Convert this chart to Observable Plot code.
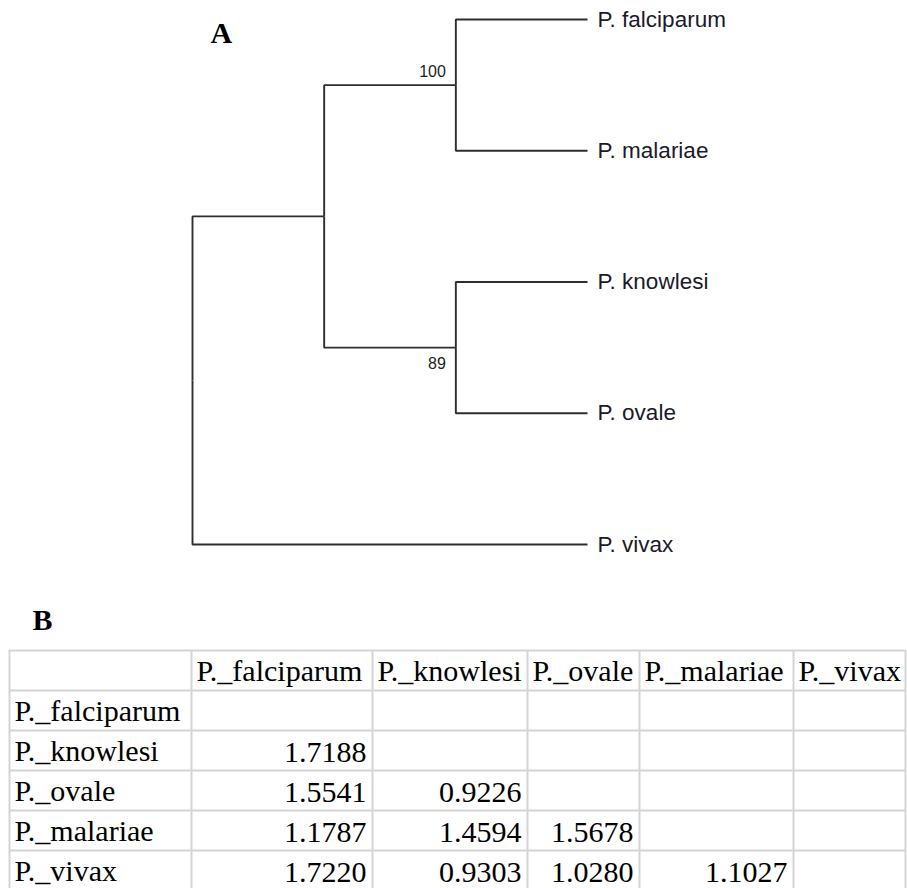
<!DOCTYPE html>
<html>
<head>
<meta charset="utf-8">
<script src="https://cdn.jsdelivr.net/npm/d3@7"></script>
<script src="https://cdn.jsdelivr.net/npm/@observablehq/plot@0.6"></script>
<style>
  html, body { margin: 0; padding: 0; background: #fff; overflow: hidden; }
  #chart svg { display: block; }
</style>
</head>
<body>
<div id="chart"></div>
<script>
// ---------- DATA ----------
// Tree (cladogram) edges: parent -> child
const edgeParents  = ["root", "root",    "inner", "inner", "n100",          "n100",        "n89",         "n89"];
const edgeChildren = ["inner", "P. vivax", "n100", "n89",  "P. falciparum", "P. malariae", "P. knowlesi", "P. ovale"];
// Bootstrap support values
const supportNodes  = ["n100", "n89"];
const supportValues = [100, 89];

// Distance table (lower triangle)
const taxa = ["P._falciparum", "P._knowlesi", "P._ovale", "P._malariae", "P._vivax"];
const distFalciparum = [];
const distKnowlesi   = [1.7188];
const distOvale      = [1.5541, 0.9226];
const distMalariae   = [1.1787, 1.4594, 1.5678];
const distVivax      = [1.7220, 0.9303, 1.0280, 1.1027];
const distRows = [distFalciparum, distKnowlesi, distOvale, distMalariae, distVivax];

// ---------- LAYOUT ----------
const W = 907;
const colWidths = [182, 181, 155, 112, 154, 112]; // first column = row labels

// ---------- TREE ----------
const links = edgeParents.map((p, i) => ({parent: p, child: edgeChildren[i]}));
const root = d3.stratify().id(d => d.child).parentId(d => d.parent)(
  [{child: "root", parent: null}, ...links]
);
const maxDepth = d3.max(root.leaves(), d => d.depth);
let leafIdx = 0;
root.eachAfter(n => {
  if (!n.children) { n.px = maxDepth; n.py = leafIdx++; }
  else { n.px = n.depth; n.py = d3.mean(n.children, c => c.py); }
});
const nodeList = root.descendants();
const edges = nodeList.filter(n => n.parent).map(n => ({
  x1: n.parent.px, y1: n.parent.py, x2: n.px, y2: n.py
}));
const leafNodes = root.leaves().map(n => ({x: n.px, y: n.py, name: n.id}));
const supportData = supportNodes.map((id, i) => {
  const n = nodeList.find(d => d.id === id);
  return {x: n.px, y: n.py, value: supportValues[i], below: n.py > 2};
});

const treePlot = Plot.plot({
  width: W,
  height: 570,
  marginLeft: 192,
  marginRight: 320,
  marginTop: 19,
  marginBottom: 26,
  x: {domain: [0, maxDepth], axis: null},
  y: {domain: [0, leafIdx - 1], reverse: true, axis: null},
  style: {fontFamily: "'Liberation Sans', Arial, sans-serif", background: "#fff"},
  marks: [
    Plot.link(edges, {x1: "x1", y1: "y1", x2: "x2", y2: "y2", curve: "step-before",
      stroke: "#2e2e2e", strokeWidth: 1.9}),
    Plot.text(leafNodes, {x: "x", y: "y", text: "name", dx: 10, textAnchor: "start",
      lineAnchor: "middle", fontSize: 22.5, fill: "#1a1a2a"}),
    Plot.text(supportData.filter(d => !d.below), {x: "x", y: "y", text: d => String(d.value),
      dx: -10, dy: -8, textAnchor: "end", lineAnchor: "bottom", fontSize: 16, fill: "#222"}),
    Plot.text(supportData.filter(d => d.below), {x: "x", y: "y", text: d => String(d.value),
      dx: -10, dy: 10, textAnchor: "end", lineAnchor: "top", fontSize: 16, fill: "#222"}),
    Plot.text(["A"], {frameAnchor: "top-left", dx: 18, dy: 23, textAnchor: "start",
      lineAnchor: "bottom", fontSize: 30, fontWeight: "bold",
      fontFamily: "'Liberation Serif', 'Times New Roman', serif", fill: "#000"})
  ]
});

// ---------- TABLE ----------
const colEdges = [0];
colWidths.forEach(w => colEdges.push(colEdges[colEdges.length - 1] + w));
const totalW = colEdges[colEdges.length - 1];
const nRows = taxa.length + 1;

const headerCells = taxa.map((t, j) => ({x: colEdges[j + 1], y: 1, text: t}));
const rowLabels = taxa.map((t, i) => ({x: 0, y: i + 2, text: t}));
const valueCells = [];
distRows.forEach((row, i) => row.forEach((v, j) => {
  valueCells.push({x: colEdges[j + 2], y: i + 2, text: v.toFixed(4)});
}));

const serif = "'Liberation Serif', 'Times New Roman', serif";
const tablePlot = Plot.plot({
  width: W,
  height: 320,
  marginLeft: 9,
  marginRight: 2,
  marginTop: 80,
  marginBottom: 0,
  x: {domain: [0, totalW], axis: null},
  y: {domain: [0, nRows], reverse: true, axis: null},
  style: {fontFamily: serif, background: "#fff"},
  marks: [
    Plot.ruleY(d3.range(nRows + 1), {x1: 0, x2: totalW, stroke: "#d4d4d4", strokeWidth: 2}),
    Plot.ruleX(colEdges, {y1: 0, y2: nRows, stroke: "#d4d4d4", strokeWidth: 2}),
    Plot.text(headerCells, {x: "x", y: "y", text: "text", dx: 5, dy: -10, textAnchor: "start",
      lineAnchor: "bottom", fontSize: 30, fill: "#000"}),
    Plot.text(rowLabels, {x: "x", y: "y", text: "text", dx: 5, dy: -10, textAnchor: "start",
      lineAnchor: "bottom", fontSize: 30, fill: "#000"}),
    Plot.text(valueCells, {x: "x", y: "y", text: "text", dx: -6, dy: -9, textAnchor: "end",
      lineAnchor: "bottom", fontSize: 30, fill: "#000"}),
    Plot.text(["B"], {frameAnchor: "top-left", dx: 23, dy: -21, textAnchor: "start",
      lineAnchor: "bottom", fontSize: 30, fontWeight: "bold", fill: "#000"})
  ]
});

const chart = document.getElementById("chart");
chart.appendChild(treePlot);
chart.appendChild(tablePlot);
</script>
</body>
</html>
